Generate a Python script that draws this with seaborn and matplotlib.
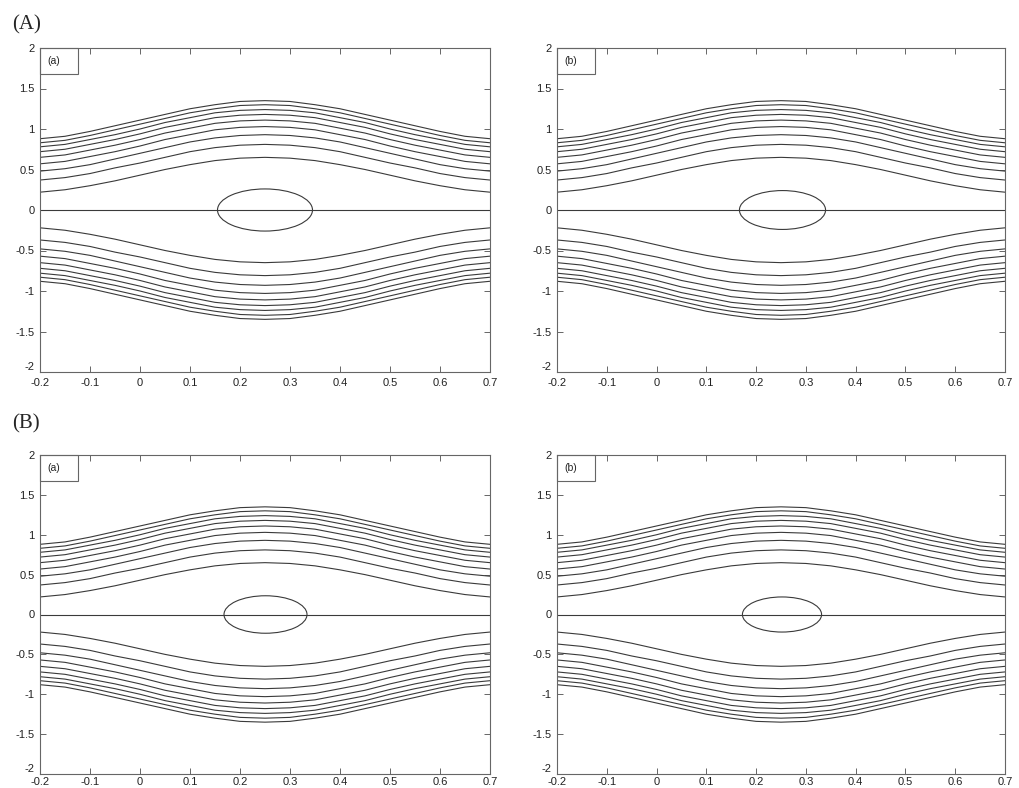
import matplotlib
matplotlib.use("Agg")
import matplotlib.pyplot as plt
from matplotlib.patches import Ellipse, Rectangle
import seaborn as sns
import pandas as pd

# ---------------- data ----------------
x_vals = [-0.20, -0.15, -0.10, -0.05, 0.00, 0.05, 0.10, 0.15, 0.20, 0.25,
          0.30, 0.35, 0.40, 0.45, 0.50, 0.55, 0.60, 0.65, 0.70]

stream_1 = [0.22, 0.25, 0.30, 0.36, 0.43, 0.50, 0.56, 0.61, 0.64, 0.65, 0.64, 0.61, 0.56, 0.50, 0.43, 0.36, 0.30, 0.25, 0.22]
stream_2 = [0.37, 0.40, 0.45, 0.52, 0.58, 0.65, 0.72, 0.77, 0.80, 0.81, 0.80, 0.77, 0.72, 0.65, 0.58, 0.52, 0.45, 0.40, 0.37]
stream_3 = [0.48, 0.51, 0.56, 0.63, 0.70, 0.77, 0.84, 0.89, 0.92, 0.93, 0.92, 0.89, 0.84, 0.77, 0.70, 0.63, 0.56, 0.51, 0.48]
stream_4 = [0.57, 0.60, 0.66, 0.72, 0.79, 0.87, 0.93, 0.99, 1.02, 1.03, 1.02, 0.99, 0.93, 0.87, 0.79, 0.72, 0.66, 0.60, 0.57]
stream_5 = [0.65, 0.68, 0.74, 0.80, 0.87, 0.95, 1.01, 1.07, 1.10, 1.11, 1.10, 1.07, 1.01, 0.95, 0.87, 0.80, 0.74, 0.68, 0.65]
stream_6 = [0.72, 0.75, 0.81, 0.87, 0.94, 1.02, 1.08, 1.14, 1.17, 1.18, 1.17, 1.14, 1.08, 1.02, 0.94, 0.87, 0.81, 0.75, 0.72]
stream_7 = [0.78, 0.81, 0.87, 0.93, 1.00, 1.08, 1.14, 1.20, 1.23, 1.24, 1.23, 1.20, 1.14, 1.08, 1.00, 0.93, 0.87, 0.81, 0.78]
stream_8 = [0.83, 0.86, 0.92, 0.99, 1.06, 1.13, 1.20, 1.25, 1.29, 1.30, 1.29, 1.25, 1.20, 1.13, 1.06, 0.99, 0.92, 0.86, 0.83]
stream_9 = [0.88, 0.91, 0.97, 1.04, 1.11, 1.18, 1.25, 1.30, 1.34, 1.35, 1.34, 1.30, 1.25, 1.18, 1.11, 1.04, 0.97, 0.91, 0.88]
upper_streams = [stream_1, stream_2, stream_3, stream_4, stream_5,
                 stream_6, stream_7, stream_8, stream_9]

panel_labels = ["(a)", "(b)", "(a)", "(b)"]
group_labels = ["(A)", "(B)"]
# trapped bolus (closed streamline) per panel
bolus_cx = [0.250, 0.253, 0.251, 0.252]
bolus_w = [0.190, 0.173, 0.166, 0.159]
bolus_h = [0.52, 0.48, 0.47, 0.44]

x_ticks = [-0.2, -0.1, 0, 0.1, 0.2, 0.3, 0.4, 0.5, 0.6, 0.7]
x_ticklabels = ["-0.2", "-0.1", "0", "0.1", "0.2", "0.3", "0.4", "0.5", "0.6", "0.7"]
y_ticks = [-2, -1.5, -1, -0.5, 0, 0.5, 1, 1.5, 2]
y_ticklabels = ["-2", "-1.5", "-1", "-0.5", "0", "0.5", "1", "1.5", "2"]

# ---------------- build table ----------------
rows = []
lid = 0
for s in upper_streams:
    for xv, yv in zip(x_vals, s):
        rows.append((lid, xv, yv))
    lid += 1
    for xv, yv in zip(x_vals, s):
        rows.append((lid, xv, -yv))
    lid += 1
for xv in x_vals:
    rows.append((lid, xv, 0.0))
df = pd.DataFrame(rows, columns=["line", "x", "y"])

# ---------------- figure ----------------
sns.set_style("white")
plt.rcParams["font.family"] = ["Liberation Sans", "DejaVu Sans"]
plt.rcParams["axes.unicode_minus"] = False

W, H = 1019, 788
fig = plt.figure(figsize=(W / 100, H / 100), dpi=100)

# axes boxes in pixels: left, right, top, bottom
boxes = [(40, 490, 48, 372), (557, 1005, 48, 372),
         (40, 490, 455, 774), (557, 1005, 455, 774)]

line_col = "#3a3a3a"
axis_col = "#666666"

for i, (l, r, t, b) in enumerate(boxes):
    ax = fig.add_axes([l / W, 1 - b / H, (r - l) / W, (b - t) / H])
    sns.lineplot(data=df, x="x", y="y", units="line", estimator=None,
                 color=line_col, linewidth=0.8, ax=ax, legend=False)
    ax.add_patch(Ellipse((bolus_cx[i], 0), bolus_w[i], bolus_h[i],
                         fill=False, edgecolor=line_col, linewidth=0.8))
    ax.set_xlim(-0.2, 0.7)
    ax.set_ylim(-2, 2)
    ax.set_xticks(x_ticks)
    ax.set_xticklabels(x_ticklabels)
    ax.set_yticks(y_ticks)
    ax.set_yticklabels(y_ticklabels)
    ax.set_xlabel("")
    ax.set_ylabel("")
    ax.tick_params(direction="in", length=4, width=0.7, color=axis_col,
                   labelsize=8, labelcolor="#222222", top=True, right=True,
                   bottom=True, left=True, pad=4)
    ax.tick_params(axis="x", pad=2 if i >= 2 else 4)
    # the lowest y label sits slightly raised, as in the reference
    ax.get_yticklabels()[0].set_va("bottom")
    for sp in ax.spines.values():
        sp.set_visible(True)
        sp.set_color(axis_col)
        sp.set_linewidth(0.8)
    # label box in the corner
    bh = 26 / (b - t)
    ax.add_patch(Rectangle((0, 1 - bh), 38 / (r - l), bh,
                           transform=ax.transAxes, fill=False,
                           edgecolor=axis_col, linewidth=0.8, clip_on=False))
    ax.text(7 / (r - l), 1 - bh / 2, panel_labels[i], transform=ax.transAxes,
            ha="left", va="center", fontsize=7.5, color="#222222")

fig.text(12 / W, 1 - 25 / H, group_labels[0], fontsize=15,
         family=["Liberation Serif", "DejaVu Serif"], ha="left", va="center")
fig.text(12 / W, 1 - 424 / H, group_labels[1], fontsize=15,
         family=["Liberation Serif", "DejaVu Serif"], ha="left", va="center")

fig.savefig("out.png", dpi=100, facecolor="white")
